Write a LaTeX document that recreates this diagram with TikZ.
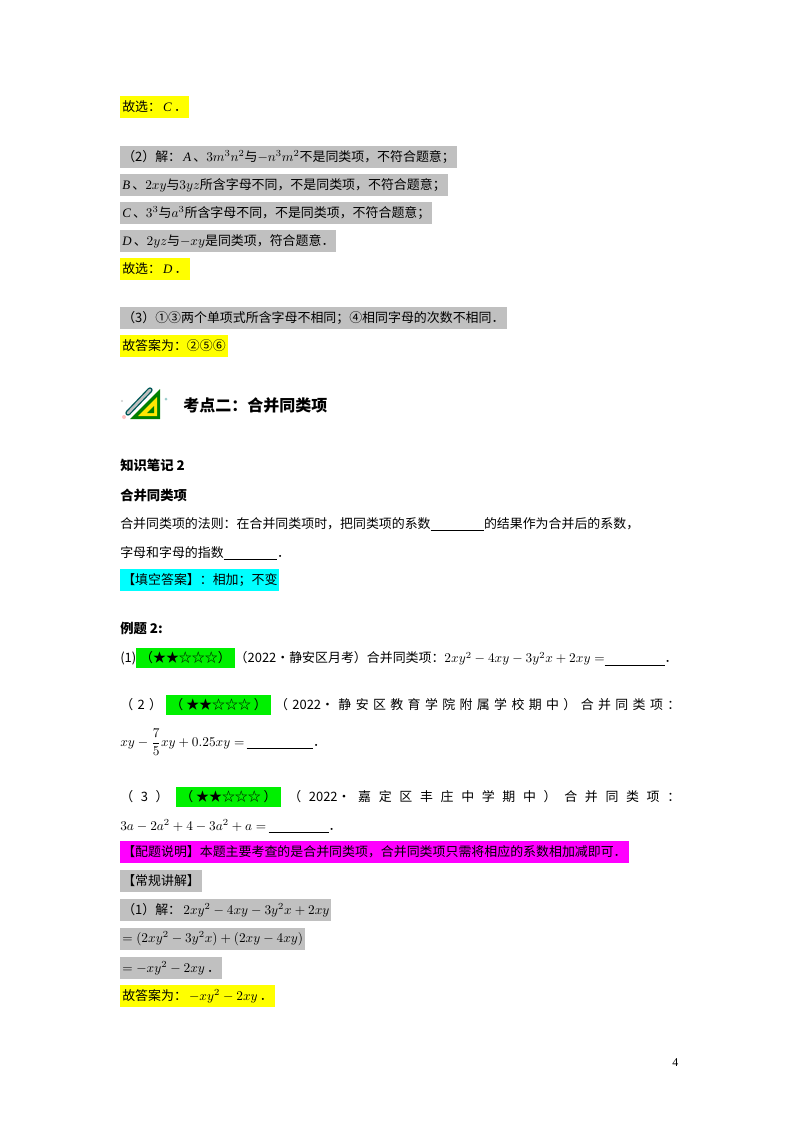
\documentclass[tikz,border=0pt]{standalone}
\usepackage{fontspec}
\setmainfont{Noto Sans CJK SC}
\newfontfamily\tm{Liberation Serif}
\newcommand{\mi}[1]{{\tm\itshape #1}}
\definecolor{hy}{HTML}{FFFF00}
\definecolor{hg}{HTML}{C0C0C0}
\definecolor{hgr}{HTML}{00F000}
\definecolor{hc}{HTML}{00FFFF}
\definecolor{hm}{HTML}{FF00FF}
\begin{document}
\begin{tikzpicture}[x=0.75pt,y=-0.75pt,
  t/.style={anchor=west,inner sep=0pt,font=\fontsize{9.7}{12}\selectfont},
  hl/.style={t,fill=#1,inner xsep=1.5pt,minimum height=16.5pt},
  b/.style={t,font=\fontsize{10}{12}\selectfont\bfseries}]
\useasboundingbox (0,0) rectangle (800,1132);
\fill[white] (0,0) rectangle (800,1132);
\node[hl=hy] (a1) at (120,107) {故选：\,\mi{C}\,．};
\node[hl=hg] (a2) at (120,157) {（2）解：\,\mi{A}\,、$3m^3n^2$与$-n^3m^2$不是同类项，不符合题意；};
\node[hl=hg] (a3) at (120,185) {\mi{B}\,、$2xy$与$3yz$所含字母不同，不是同类项，不符合题意；};
\node[hl=hg] (a4) at (120,213) {\mi{C}\,、$3^3$与$a^3$所含字母不同，不是同类项，不符合题意；};
\node[hl=hg] (a5) at (120,241) {\mi{D}\,、$2yz$与$-xy$是同类项，符合题意．};
\node[hl=hy] (a6) at (120,269) {故选：\,\mi{D}\,．};
\node[hl=hg] (a7) at (120,318) {（3）①③两个单项式所含字母不相同；④相同字母的次数不相同．};
\node[hl=hy] (a8) at (120,346) {故答案为：②⑤⑥};
% icon
\begin{scope}[shift={(122,385)}]
\fill[green!50!black] (8,34) -- (38,4) -- (38,34) -- cycle;
\fill[yellow!90!orange] (16,31) -- (35,12) -- (35,31) -- cycle;
\fill[green!50!black] (25,28) -- (32,21) -- (32,28) -- cycle;
\draw[line width=4pt,teal!70!black,line cap=round] (6,28) -- (28,5);
\draw[line width=2pt,gray!50,line cap=round] (6,28) -- (28,5);
\fill[pink] (2,32) circle (2);
\fill[teal!40] (44,14) circle (1.5);
\fill[gray!40] (0,16) circle (1.2);
\end{scope}
\node[b,font=\fontsize{12}{14}\selectfont\bfseries] (h1) at (183,405) {考点二：合并同类项};
\node[b] (h2) at (120,465) {知识笔记 2};
\node[b] (h3) at (120,495) {合并同类项};
\node[t] (p1) at (120,524) {合并同类项的法则：在合并同类项时，把同类项的系数\underline{\hspace{40pt}}的结果作为合并后的系数，};
\node[t] (p2) at (120,553) {字母和字母的指数\underline{\hspace{40pt}}．};
\node[hl=hc] (p3) at (120,580) {【填空答案】：相加；不变};
\node[b] (e0) at (120,628) {例题 2:};
\node[t] (e1) at (120,658) {(1)\colorbox{hgr}{（★★☆☆☆）}（2022•静安区月考）合并同类项：$2xy^2-4xy-3y^2x+2xy=$\underline{\hspace{45pt}}．};
\node[t] (e2) at (120,705) {\hbox to 420pt{（\hfill 2\hfill ）\hfill\colorbox{hgr}{（ ★★☆☆☆ ）}\hfill（\hfill 2022•\hfill 静\hfill 安\hfill 区\hfill 教\hfill 育\hfill 学\hfill 院\hfill 附\hfill 属\hfill 学\hfill 校\hfill 期\hfill 中\hfill ）\hfill 合\hfill 并\hfill 同\hfill 类\hfill 项\hfill ：}};
\node[t] (e3) at (120,742) {$xy-\displaystyle\frac{7}{5}xy+0.25xy=$\,\underline{\hspace{50pt}}．};
\node[t] (e4) at (120,797) {\hbox to 420pt{（\hfill 3\hfill ）\hfill\colorbox{hgr}{（ ★★☆☆☆ ）}\hfill（\hfill 2022•\hfill 嘉\hfill 定\hfill 区\hfill 丰\hfill 庄\hfill 中\hfill 学\hfill 期\hfill 中\hfill ）\hfill 合\hfill 并\hfill 同\hfill 类\hfill 项\hfill ：}};
\node[t] (e5) at (120,826) {$3a-2a^2+4-3a^2+a=$\,\underline{\hspace{45pt}}．};
\node[hl=hm] (s1) at (120,852) {【配题说明】本题主要考查的是合并同类项，合并同类项只需将相应的系数相加减即可．};
\node[hl=hg] (s2) at (120,881) {【常规讲解】};
\node[hl=hg] (s3) at (120,910) {（1）解：\,$2xy^2-4xy-3y^2x+2xy$};
\node[hl=hg] (s4) at (120,939) {$=(2xy^2-3y^2x)+(2xy-4xy)$};
\node[hl=hg] (s5) at (120,968) {$=-xy^2-2xy$\,．};
\node[hl=hy] (s6) at (120,996) {故答案为：\,$-xy^2-2xy$\,．};
\node[t,font=\tm\fontsize{9}{10}\selectfont] (pg) at (672,1063) {4};
\end{tikzpicture}
\end{document}
